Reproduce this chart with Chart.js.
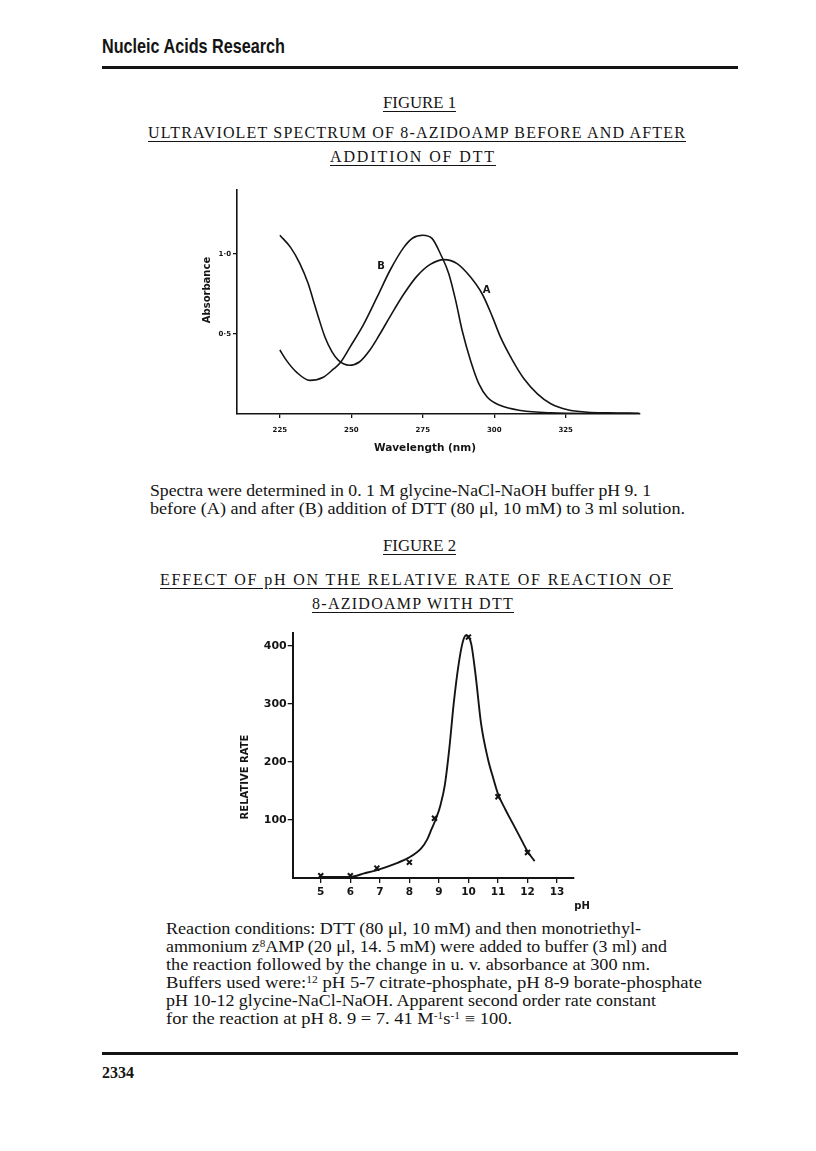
<!DOCTYPE html>
<html><head><meta charset="utf-8">
<script src="https://cdn.jsdelivr.net/npm/chart.js@4.4.1/dist/chart.umd.min.js"></script>
<style>
html,body{margin:0;padding:0;background:#fff;}
body{width:816px;height:1151px;position:relative;overflow:hidden;}
.t{position:absolute;white-space:nowrap;line-height:1;color:#141414;font-family:"Liberation Serif","Times New Roman",serif;font-size:16px;transform-origin:0 0;}
.u{text-decoration:underline;text-decoration-thickness:1px;text-underline-offset:3px;}
.rule{position:absolute;background:#141414;}
sup{font-size:0.62em;line-height:0;vertical-align:0.5em;}
canvas{position:absolute;}
</style></head><body>
<div class="rule" style="left:102px;top:66px;width:636px;height:3px"></div>
<div class="t" data-x="102" data-b="53" data-w="183" data-fs="21" data-sans="1" style="font-weight:bold">Nucleic Acids Research</div>

<div class="t u" data-x="383" data-b="108" data-w="73">FIGURE 1</div>
<div class="t u" data-x="148" data-b="138" data-w="538" data-m="ls">ULTRAVIOLET SPECTRUM OF 8-AZIDOAMP BEFORE AND AFTER</div>
<div class="t u" data-x="330" data-b="162" data-w="166" data-m="ls">ADDITION OF DTT</div>

<canvas id="c1" width="490" height="290" style="left:170px;top:180px;width:490px;height:290px"></canvas>

<div class="t" data-x="150" data-b="496" data-w="501">Spectra were determined in 0. 1 M glycine-NaCl-NaOH buffer pH 9. 1</div>
<div class="t" data-x="150" data-b="514" data-w="535">before (A) and after (B) addition of DTT (80 μl, 10 mM) to 3 ml solution.</div>

<div class="t u" data-x="383" data-b="551" data-w="73">FIGURE 2</div>
<div class="t u" data-x="160" data-b="585" data-w="513" data-m="ls">EFFECT OF pH ON THE RELATIVE RATE OF REACTION OF</div>
<div class="t u" data-x="312" data-b="609" data-w="202" data-m="ls">8-AZIDOAMP WITH DTT</div>

<canvas id="c2" width="400" height="300" style="left:220px;top:620px;width:400px;height:300px"></canvas>

<div class="t" data-x="166" data-b="934" data-w="475">Reaction conditions: DTT (80 μl, 10 mM) and then monotriethyl-</div>
<div class="t" data-x="166" data-b="952" data-w="501">ammonium z<sup>8</sup>AMP (20 μl, 14. 5 mM) were added to buffer (3 ml) and</div>
<div class="t" data-x="166" data-b="970" data-w="484">the reaction followed by the change in u. v. absorbance at 300 nm.</div>
<div class="t" data-x="166" data-b="988" data-w="536">Buffers used were:<sup>12</sup> pH 5-7 citrate-phosphate, pH 8-9 borate-phosphate</div>
<div class="t" data-x="166" data-b="1006" data-w="490">pH 10-12 glycine-NaCl-NaOH. Apparent second order rate constant</div>
<div class="t" data-x="166" data-b="1024" data-w="346">for the reaction at pH 8. 9 = 7. 41 M<sup>-1</sup>s<sup>-1</sup> ≡ 100.</div>

<div class="rule" style="left:102px;top:1052px;width:636px;height:3px"></div>
<div class="t" data-x="102" data-b="1078" data-w="32" style="font-weight:bold">2334</div>

<script>
// ---------- Figure 1 data (UV spectrum) ----------
const wavelengthA = [225, 228.8, 232, 234.9, 236.7, 238.4, 240.8, 243.2, 245.5, 249.3, 252.8, 256.5, 260, 263.6, 268.2, 272.9, 277.6, 282.5, 287, 291.7, 295.8, 299.3, 302.2, 306.4, 310.4, 315.1, 319.8, 325.7, 332.7, 340, 350.8];
const absorbanceA = [1.117, 1.04, 0.94, 0.815, 0.71, 0.61, 0.48, 0.39, 0.335, 0.305, 0.325, 0.40, 0.50, 0.61, 0.745, 0.86, 0.935, 0.965, 0.94, 0.856, 0.75, 0.61, 0.48, 0.335, 0.22, 0.126, 0.064, 0.026, 0.011, 0.007, 0.005];
const wavelengthB = [225, 227.3, 230.9, 235.5, 240.2, 243.7, 246.1, 249.6, 254.3, 259, 263.6, 268.3, 271.5, 275, 278.3, 281.2, 284.1, 286.5, 288.8, 291.7, 294.6, 297.6, 302.2, 309.3, 319.8, 337.4, 350.8];
const absorbanceB = [0.40, 0.335, 0.26, 0.21, 0.23, 0.28, 0.32, 0.42, 0.56, 0.73, 0.90, 1.04, 1.10, 1.117, 1.096, 1.0, 0.877, 0.71, 0.52, 0.335, 0.19, 0.105, 0.053, 0.022, 0.0075, 0.003, 0.002];
const xTicks1 = [225, 250, 275, 300, 325];
const yTicks1 = [0.5, 1.0];
const yTickLabels1 = ['0·5', '1·0'];
const curveLabels1 = [{text: 'A', x: 297.3, y: 0.77}, {text: 'B', x: 260.4, y: 0.92}];

// ---------- Figure 2 data (pH vs relative rate) ----------
const pHCurve = [5.0, 6.0, 6.47, 6.98, 7.49, 7.98, 8.4, 8.6, 8.75, 8.9, 9.05, 9.2, 9.35, 9.5, 9.65, 9.8, 9.92, 10.0, 10.1, 10.25, 10.43, 10.66, 10.85, 11.0, 11.25, 11.5, 11.75, 12.0, 12.24];
const rateCurve = [2, 2, 8, 15, 24, 35, 51, 66, 84, 102, 125, 160, 222, 300, 362, 405, 418, 416, 402, 346, 265, 205, 170, 145, 118, 94, 70, 46, 29];
const pHPoints = [5, 6, 6.9, 8, 8.85, 10, 11, 12];
const ratePoints = [4, 4, 17, 27, 103, 415, 140, 44];
const xTicks2 = [5, 6, 7, 8, 9, 10, 11, 12, 13];
const yTicks2 = [100, 200, 300, 400];

// ---------- page text fitting ----------
document.querySelectorAll('.t').forEach(el => {
  const fs = parseFloat(el.dataset.fs || 16);
  el.style.fontSize = fs + 'px';
  if (el.dataset.sans) el.style.fontFamily = '"Liberation Sans", Arial, sans-serif';
  const asc = el.dataset.sans ? 0.8465 : 0.8375;
  el.style.left = el.dataset.x + 'px';
  el.style.top = (parseFloat(el.dataset.b) - asc * fs) + 'px';
  const target = parseFloat(el.dataset.w);
  const nat = el.getBoundingClientRect().width;
  if (el.dataset.m === 'ls') {
    const n = el.textContent.length;
    el.style.letterSpacing = ((target - nat) / n) + 'px';
  } else {
    el.style.transform = 'scaleX(' + (target / nat) + ')';
  }
});

// ---------- chart helpers ----------
const INK = '#141414';
const toXY = (xs, ys) => xs.map((x, i) => ({x: x, y: ys[i]}));

const textPlugin = {
  id: 'txt',
  afterDraw(chart, args, opts) {
    const ctx = chart.ctx, ca = chart.chartArea;
    (opts.items || []).forEach(it => {
      ctx.save();
      ctx.font = it.font;
      ctx.fillStyle = INK;
      ctx.textAlign = 'center';
      ctx.textBaseline = 'middle';
      let x, y;
      if (it.data) {
        x = chart.scales.x.getPixelForValue(it.data[0]);
        y = chart.scales.y.getPixelForValue(it.data[1]);
      } else {
        x = ca[it.ax] + it.dx;
        y = ca[it.ay] + it.dy;
      }
      ctx.translate(x, y);
      if (it.rot) ctx.rotate(it.rot);
      ctx.fillText(it.text, 0, 0);
      ctx.restore();
    });
  }
};

function axisStyle(tickLen, bw) {
  return {
    grid: {display: true, drawOnChartArea: false, drawTicks: true, tickLength: tickLen, color: INK, lineWidth: 1.3},
    border: {display: true, color: INK, width: bw}
  };
}

// ---------- Figure 1 ----------
new Chart(document.getElementById('c1'), {
  type: 'line',
  data: {
    datasets: [
      {label: 'A', data: toXY(wavelengthA, absorbanceA), borderColor: INK, borderWidth: 1.6, pointRadius: 0, cubicInterpolationMode: 'monotone', fill: false},
      {label: 'B', data: toXY(wavelengthB, absorbanceB), borderColor: INK, borderWidth: 1.6, pointRadius: 0, cubicInterpolationMode: 'monotone', fill: false}
    ]
  },
  options: {
    responsive: false, animation: false, devicePixelRatio: 1,
    layout: {padding: {left: 0, top: 10, right: 20, bottom: 0}},
    plugins: {
      legend: {display: false}, tooltip: {enabled: false},
      txt: {items: [
        {text: 'Absorbance', font: 'bold 10px "DejaVu Sans"', ax: 'left', dx: -30, ay: 'top', dy: 100, rot: -Math.PI / 2},
        {text: 'Wavelength (nm)', font: 'bold 10.5px "DejaVu Sans"', ax: 'left', dx: 188, ay: 'bottom', dy: 34.5},
        ...curveLabels1.map(l => ({text: l.text, font: 'bold 10px "DejaVu Sans"', data: [l.x, l.y]}))
      ]}
    },
    scales: {
      x: Object.assign({
        type: 'linear', min: 210, max: 351,
        afterBuildTicks: s => { s.ticks = xTicks1.map(v => ({value: v})); },
        afterFit: s => { s.height = 56; },
        ticks: {color: INK, font: {family: 'DejaVu Sans', size: 7, weight: 'bold'}, padding: 8, maxRotation: 0, autoSkip: false}
      }, axisStyle(4, 1.6)),
      y: Object.assign({
        type: 'linear', min: 0, max: 1.4,
        afterBuildTicks: s => { s.ticks = yTicks1.map(v => ({value: v})); },
        afterFit: s => { s.width = 67; },
        ticks: {color: INK, font: {family: 'DejaVu Sans', size: 7, weight: 'bold'}, padding: 2, autoSkip: false,
          callback: (v, i) => yTickLabels1[i]}
      }, axisStyle(4, 1.6))
    }
  },
  plugins: [textPlugin]
});

// ---------- Figure 2 ----------
new Chart(document.getElementById('c2'), {
  type: 'line',
  data: {
    datasets: [
      {label: 'curve', data: toXY(pHCurve, rateCurve), borderColor: INK, borderWidth: 1.9, pointRadius: 0, cubicInterpolationMode: 'monotone', fill: false},
      {label: 'measured', data: toXY(pHPoints, ratePoints), showLine: false, pointStyle: 'crossRot', pointRadius: 3.5, pointBorderWidth: 2, pointBorderColor: INK, borderColor: INK}
    ]
  },
  options: {
    responsive: false, animation: false, devicePixelRatio: 1,
    layout: {padding: {left: 0, top: 13, right: 46.7, bottom: 0}},
    plugins: {
      legend: {display: false}, tooltip: {enabled: false},
      txt: {items: [
        {text: 'RELATIVE RATE', font: 'bold 10px "DejaVu Sans"', ax: 'left', dx: -47.2, ay: 'bottom', dy: -101, rot: -Math.PI / 2},
        {text: 'pH', font: 'bold 10px "DejaVu Sans"', ax: 'right', dx: 8.7, ay: 'bottom', dy: 28}
      ]}
    },
    scales: {
      x: Object.assign({
        type: 'linear', min: 4.05, max: 13.55,
        afterBuildTicks: s => { s.ticks = xTicks2.map(v => ({value: v})); },
        afterFit: s => { s.height = 42; },
        ticks: {color: INK, font: {family: 'DejaVu Sans', size: 10.5, weight: 'bold'}, padding: 3, maxRotation: 0, autoSkip: false}
      }, axisStyle(5, 2)),
      y: Object.assign({
        type: 'linear', min: 0, max: 422,
        afterBuildTicks: s => { s.ticks = yTicks2.map(v => ({value: v})); },
        afterFit: s => { s.width = 72.7; },
        ticks: {color: INK, font: {family: 'DejaVu Sans', size: 11, weight: 'bold'}, padding: 1, autoSkip: false}
      }, axisStyle(5, 2))
    }
  },
  plugins: [textPlugin]
});
</script>
</body></html>
